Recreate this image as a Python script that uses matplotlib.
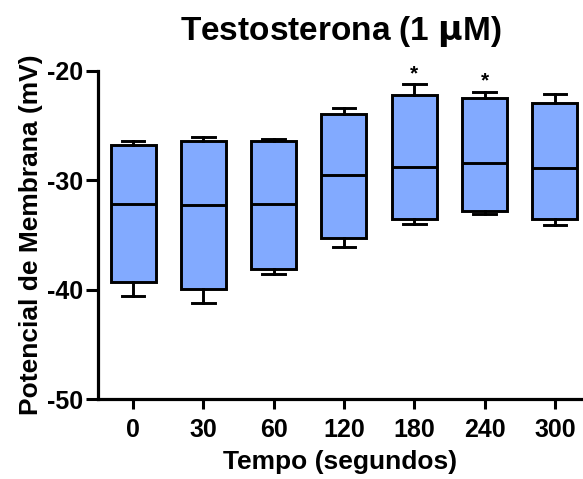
import matplotlib.pyplot as plt
import numpy as np

plt.rcParams['font.family'] = ['Liberation Sans', 'DejaVu Sans']
plt.rcParams['font.weight'] = 'bold'
plt.rcParams['axes.unicode_minus'] = False

# time points (s) and box-plot summaries of membrane potential (mV)
tempos = ['0', '30', '60', '120', '180', '240', '300']
minimo = [-40.6, -41.25, -38.6, -36.1, -34.0, -33.1, -34.1]
q1 = [-39.3, -39.95, -38.1, -35.3, -33.5, -32.8, -33.5]
mediana = [-32.2, -32.3, -32.2, -29.5, -28.8, -28.45, -28.9]
q3 = [-26.8, -26.4, -26.4, -23.95, -22.2, -22.5, -22.9]
maximo = [-26.4, -26.0, -26.2, -23.4, -21.2, -21.9, -22.1]
signif = [False, False, False, False, True, True, False]

stats = []
for i, lab in enumerate(tempos):
    stats.append(dict(label=lab, whislo=minimo[i], q1=q1[i], med=mediana[i],
                      q3=q3[i], whishi=maximo[i], fliers=[]))

fig = plt.figure(figsize=(5.83, 4.79), dpi=100)
ax = fig.add_axes([0.168, 0.167, 0.832, 0.685])

pos = np.arange(len(tempos))
lw = 2.1
ax.bxp(stats, positions=pos, widths=0.64, patch_artist=True, showfliers=False,
       boxprops=dict(facecolor='#82AAFF', edgecolor='black', linewidth=lw),
       medianprops=dict(color='black', linewidth=lw),
       whiskerprops=dict(color='black', linewidth=lw),
       capprops=dict(color='black', linewidth=lw),
       capwidths=0.32)

for i, s in enumerate(signif):
    if s:
        ax.text(pos[i], maximo[i] + 0.1, '*', ha='center', va='bottom',
                fontsize=15, fontweight='bold')

ax.set_xlim(-0.5, 6.4)
ax.set_ylim(-50, -20)
ax.set_yticks([-50, -40, -30, -20])
ax.set_xticks(pos)
ax.set_xticklabels(tempos)

for side in ['top', 'right']:
    ax.spines[side].set_visible(False)
for side in ['left', 'bottom']:
    ax.spines[side].set_linewidth(2.3)
ax.tick_params(axis='both', direction='out', length=8.5, width=2.2,
               labelsize=18, pad=2)
ax.tick_params(axis='x', length=7.5, pad=6)
for lab in ax.get_xticklabels() + ax.get_yticklabels():
    lab.set_fontweight('bold')

ax.set_xlabel('Tempo (segundos)', fontsize=19, fontweight='bold', labelpad=6)
ax.set_ylabel('Potencial de Membrana (mV)', fontsize=19, fontweight='bold', labelpad=3)
ax.set_title('Testosterona (1 $\\mathbf{\\mu}$M)', fontsize=24, fontweight='bold', pad=22)

fig.savefig('out.png', dpi=100)
